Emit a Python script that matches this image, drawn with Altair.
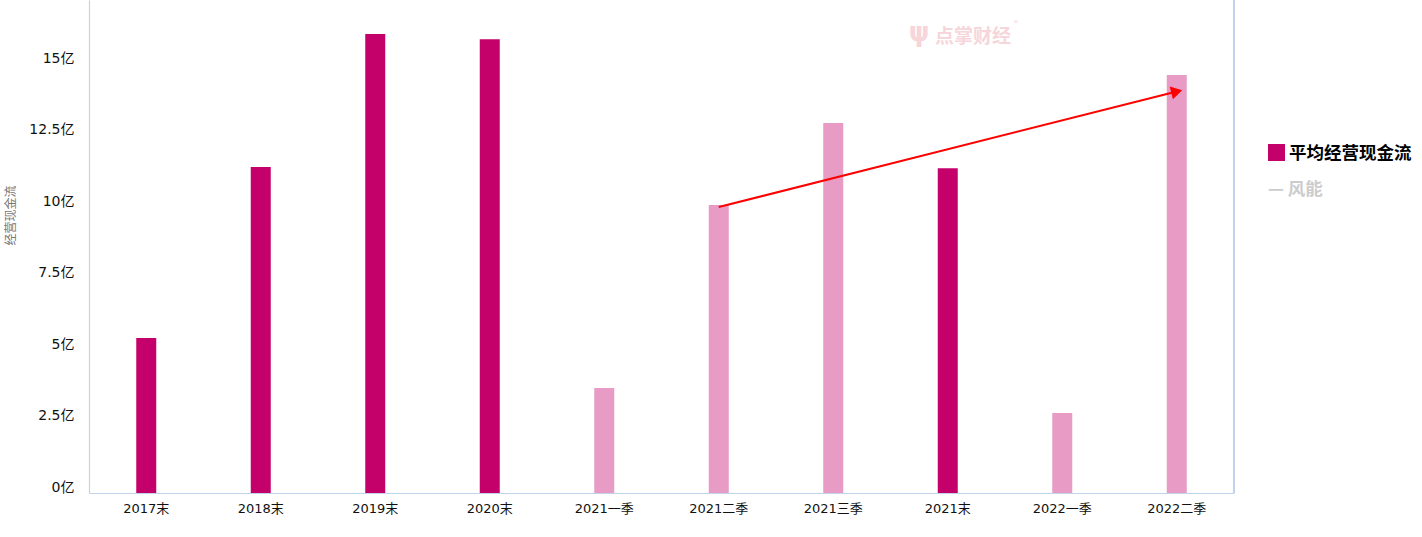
import altair as alt
import pandas as pd

categories = ["2017末", "2018末", "2019末", "2020末", "2021一季", "2021二季",
              "2021三季", "2021末", "2022一季", "2022二季"]
values = [5.42, 11.40, 16.05, 15.87, 3.67, 10.07, 12.94, 11.36, 2.80, 14.62]
kinds = ["年末", "年末", "年末", "年末", "季度", "季度", "季度", "年末", "季度", "季度"]

arrow_cats = ["2021二季", "2022二季"]
arrow_vals = [10.0, 14.04]

y_ticks = [0, 2.5, 5, 7.5, 10, 12.5, 15]

FONT = "Noto Sans CJK SC"
LBL_FONT = "DejaVu Sans, Noto Sans CJK SC"
W, H = 1145, 493
AXIS_COLOR = "#C2D4EC"

df = pd.DataFrame({"cat": categories, "val": values, "kind": kinds})
arrow_df = pd.DataFrame({"cat": arrow_cats, "val": arrow_vals})
head_df = arrow_df.iloc[[1]]

xscale = alt.Scale(domain=categories, paddingInner=0, paddingOuter=0)
yscale = alt.Scale(domain=[0, 17.24], nice=False, zero=True)

x_axis = alt.Axis(title=None, labelAngle=0, labelFont=LBL_FONT, labelFontSize=13,
                  labelColor="#111", domainColor=AXIS_COLOR, domainWidth=1.2,
                  ticks=False, labelPadding=9)
y_axis = alt.Axis(title="经营现金流", values=y_ticks, grid=False, ticks=False,
                  labelExpr="datum.value + '亿'", labelFont=LBL_FONT, labelFontSize=14,
                  labelColor="#111", labelPadding=15, labelOffset=-6,
                  domainColor=AXIS_COLOR, domainWidth=1.2,
                  titleFont=FONT, titleFontSize=12, titleColor="#777",
                  titleFontWeight="normal", titleAngle=-90, titleX=-79, titleY=215,
                  titleBaseline="middle", titleAlign="center")

bars = alt.Chart(df).mark_bar(size=20).encode(
    x=alt.X("cat:N", scale=xscale, axis=x_axis, sort=categories),
    y=alt.Y("val:Q", scale=yscale, axis=y_axis),
    color=alt.Color("kind:N", scale=alt.Scale(domain=["年末", "季度"],
                                              range=["#C4006A", "#E89BC4"]),
                    legend=None),
)

line = alt.Chart(arrow_df).mark_line(color="#FF0000", strokeWidth=2).encode(
    x=alt.X("cat:N", scale=xscale, sort=categories),
    y=alt.Y("val:Q", scale=yscale),
)

head = alt.Chart(head_df).mark_point(shape="triangle-right", filled=True,
                                     color="#FF0000", size=170, angle=346,
                                     opacity=1).encode(
    x=alt.X("cat:N", scale=xscale, sort=categories),
    y=alt.Y("val:Q", scale=yscale),
)

right_line = alt.Chart(df).mark_rule(color=AXIS_COLOR, strokeWidth=1.2).encode(
    x=alt.value(W), y=alt.value(0), y2=alt.value(H)
)

deco = pd.DataFrame({"d": [0]})

watermark = alt.Chart(deco).mark_text(text="点掌财经", font=FONT, fontSize=19,
                                      fontWeight="bold", color="#F6D6DA",
                                      align="left", baseline="middle").encode(
    x=alt.value(846), y=alt.value(37)
)
watermark_r = alt.Chart(deco).mark_text(text="®", font=FONT, fontSize=8,
                                        color="#F6D6DA", align="left",
                                        baseline="middle").encode(
    x=alt.value(925), y=alt.value(24)
)
watermark_logo = alt.Chart(deco).mark_text(text="ψ", font="DejaVu Sans", fontSize=26,
                                           fontWeight="bold",
                                           color="#F6D6DA", align="center",
                                           baseline="middle").encode(
    x=alt.value(830), y=alt.value(33)
)

legend_sq = alt.Chart(deco).mark_square(color="#C4006A", size=290, filled=True,
                                        opacity=1).encode(
    x=alt.value(1187.5), y=alt.value(152.5)
)
legend_t1 = alt.Chart(deco).mark_text(text="平均经营现金流", font=FONT, fontSize=17.5,
                                      fontWeight="bold", color="#000",
                                      align="left", baseline="middle").encode(
    x=alt.value(1200), y=alt.value(154)
)
legend_t2 = alt.Chart(deco).mark_text(text="— 风能", font=FONT, fontSize=17.5,
                                      fontWeight="bold", color="#CCCCCC",
                                      align="left", baseline="middle").encode(
    x=alt.value(1179), y=alt.value(190)
)

chart = alt.layer(
    bars, line, head, right_line, watermark, watermark_r, watermark_logo,
    legend_sq, legend_t1, legend_t2
).properties(
    width=W, height=H,
    background="white",
    autosize=alt.AutoSizeParams(type="none"),
    padding={"left": 89, "top": 0, "right": 188, "bottom": 44},
).configure_view(stroke=None, strokeWidth=0)

chart.save("out.html", embed_options={"renderer": "svg", "actions": False})
